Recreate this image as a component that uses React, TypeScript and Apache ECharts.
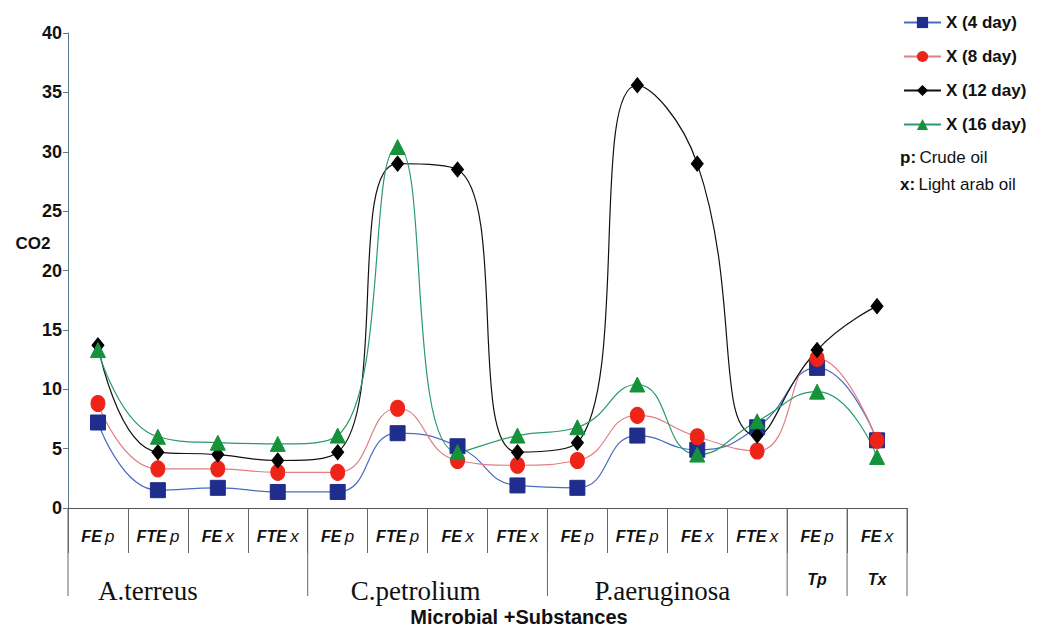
import React, { useEffect, useRef } from "react";
import * as echarts from "echarts";

const categories = ["FE p", "FTE p", "FE x", "FTE x", "FE p", "FTE p", "FE x", "FTE x", "FE p", "FTE p", "FE x", "FTE x", "FE p", "FE x"];
const day4 = [7.2, 1.5, 1.7, 1.35, 1.35, 6.3, 5.2, 1.9, 1.7, 6.1, 4.9, 6.8, 11.8, 5.7];
const day8 = [8.8, 3.3, 3.3, 3.0, 3.0, 8.4, 4.0, 3.6, 4.0, 7.8, 6.0, 4.8, 12.6, 5.7];
const day12 = [13.7, 4.7, 4.5, 4.0, 4.7, 29.0, 28.5, 4.7, 5.5, 35.6, 29.0, 6.1, 13.3, 17.0];
const day16 = [13.3, 6.0, 5.5, 5.4, 6.1, 30.4, 4.7, 6.1, 6.8, 10.4, 4.5, 7.3, 9.8, 4.3];
const seriesNames = ["X (4 day)", "X (8 day)", "X (12 day)", "X (16 day)"];
const groupNames = ["A.terreus", "C.petrolium", "P.aeruginosa", "Tp", "Tx"];
const groupSpans = [[0, 4], [4, 8], [8, 12], [12, 13], [13, 14]];
const yTicks = { min: 0, max: 40, interval: 5 };

const SANS = "'Liberation Sans', Arial, sans-serif";
const SERIF = "'Liberation Serif', 'Times New Roman', serif";

export default function App() {
  const ref = useRef<HTMLDivElement>(null);
  useEffect(() => {
    const chart = echarts.init(ref.current!, null, { renderer: "svg" });
    const mk = (name: string, data: number[], line: string, fill: string, symbol: string, size: number | number[]) => ({
      name,
      type: "line",
      data,
      smooth: 0.5,
      symbol,
      symbolSize: size,
      showAllSymbol: true,
      lineStyle: { color: line, width: 1.2 },
      itemStyle: { color: fill, borderColor: fill },
      z: 3,
    });
    const option: any = {
      animation: false,
      backgroundColor: "#ffffff",
      grid: { left: 68, right: 148, top: 33, bottom: 119, containLabel: false },
      legend: {
        orient: "vertical",
        left: 903,
        top: 14,
        padding: 0,
        itemWidth: 37,
        itemHeight: 14,
        itemGap: 17,
        data: seriesNames,
        textStyle: { fontFamily: SANS, fontWeight: "bold", fontSize: 17, color: "#111" },
      },
      xAxis: {
        type: "category",
        boundaryGap: true,
        data: categories.map((c, i) => c + "#" + i),
        axisLine: { lineStyle: { color: "#555", width: 1 } },
        axisTick: { show: true, interval: 0, length: 45, lineStyle: { color: "#666" } },
        axisLabel: {
          interval: 0,
          margin: 20,
          formatter: (v: string) => {
            const parts = v.split("#")[0].split(" ");
            return `{a|${parts[0]}} {b|${parts[1]}}`;
          },
          rich: {
            a: { fontFamily: SANS, fontWeight: "bold", fontStyle: "italic", fontSize: 16, color: "#111" },
            b: { fontFamily: SANS, fontWeight: "normal", fontStyle: "italic", fontSize: 17, color: "#111" },
          },
        },
        splitLine: { show: false },
      },
      yAxis: {
        type: "value",
        min: yTicks.min,
        max: yTicks.max,
        interval: yTicks.interval,
        axisLine: { show: true, lineStyle: { color: "#5b7b8c", width: 1 } },
        axisTick: { show: true, length: 5, lineStyle: { color: "#5b7b8c" } },
        axisLabel: { fontFamily: SANS, fontWeight: "bold", fontSize: 18, color: "#111", margin: 6 },
        splitLine: { show: false },
      },
      series: [
        mk(seriesNames[0], day4, "#4a6cc0", "#1f2d8c", "rect", 15),
        mk(seriesNames[1], day8, "#e07f86", "#ee2418", "circle", [14, 16]),
        mk(seriesNames[2], day12, "#111111", "#000000", "diamond", [12, 15]),
        mk(seriesNames[3], day16, "#2a9a6a", "#16923a", "triangle", 15),
      ],
    };
    chart.setOption(option);

    const x0 = chart.convertToPixel({ xAxisIndex: 0 }, 0) as number;
    const x1 = chart.convertToPixel({ xAxisIndex: 0 }, 1) as number;
    const w = x1 - x0;
    const yBase = chart.convertToPixel({ yAxisIndex: 0 }, 0) as number;
    const bx = (b: number) => x0 - w / 2 + b * w;
    const bounds = [0, 4, 8, 12, 13, 14];
    const shifts = [-40, -12, -5, 0, 0];
    const graphics: any[] = [];
    bounds.forEach((b) => {
      graphics.push({
        type: "line",
        shape: { x1: bx(b), y1: yBase, x2: bx(b), y2: yBase + 88 },
        style: { stroke: "#666", lineWidth: 1 },
      });
    });
    groupNames.forEach((g, i) => {
      const [s, e] = groupSpans[i];
      const cx = (bx(s) + bx(e)) / 2 + shifts[i];
      const small = e - s === 1;
      graphics.push({
        type: "text",
        x: cx,
        y: small ? yBase + 71 : yBase + 83,
        style: {
          text: g,
          textAlign: "center",
          textVerticalAlign: "middle",
          font: small ? `italic bold 16px ${SANS}` : `27px ${SERIF}`,
          fill: "#111",
        },
      });
    });
    graphics.push({
      type: "text",
      x: 519,
      y: 617,
      style: {
        text: "Microbial +Substances",
        textAlign: "center",
        textVerticalAlign: "middle",
        font: `bold 20px ${SANS}`,
        fill: "#111",
      },
    });
    graphics.push({
      type: "text",
      x: 33,
      y: 243,
      style: { text: "CO2", textAlign: "center", textVerticalAlign: "middle", font: `bold 17px ${SANS}`, fill: "#111" },
    });
    const noteRich = {
      b: { font: `bold 17px ${SANS}`, fill: "#111" },
      n: { font: `17px ${SANS}`, fill: "#111" },
    };
    graphics.push({
      type: "text",
      x: 900,
      y: 157,
      style: { text: "{b|p:} {n|Crude oil}", textVerticalAlign: "middle", rich: noteRich },
    });
    graphics.push({
      type: "text",
      x: 900,
      y: 184,
      style: { text: "{b|x:} {n|Light arab oil}", textVerticalAlign: "middle", rich: noteRich },
    });
    chart.setOption({ graphic: graphics });
    return () => chart.dispose();
  }, []);
  return <div ref={ref} style={{ position: "fixed", left: 0, top: 0, width: 1055, height: 627 }} />;
}
